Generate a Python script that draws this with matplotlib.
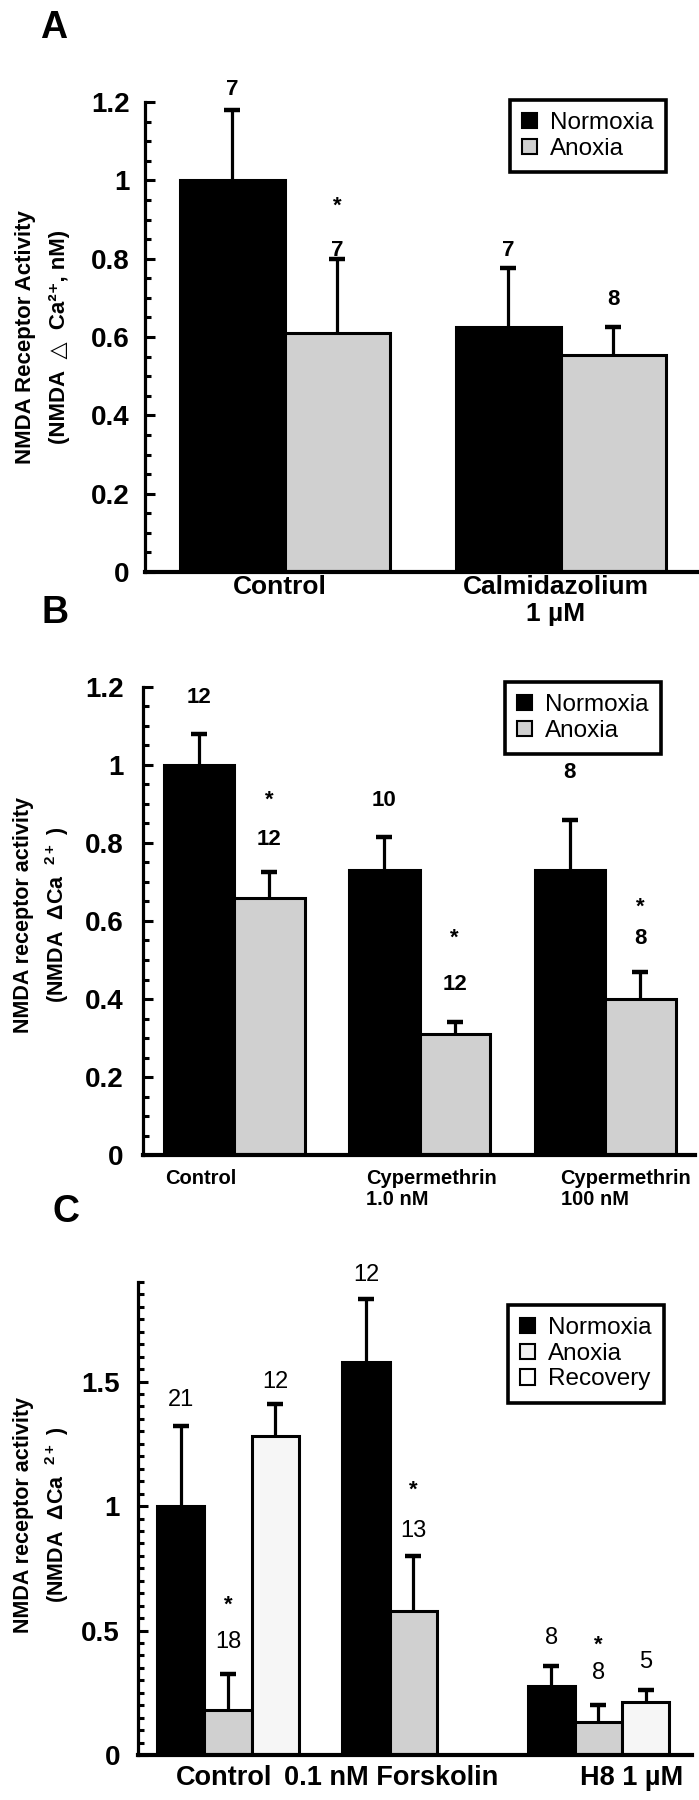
import matplotlib
matplotlib.use('Agg')
import matplotlib.pyplot as plt
from matplotlib.patches import Patch
from matplotlib.ticker import MultipleLocator
import numpy as np

plt.rcParams['font.family'] = ['Liberation Sans', 'DejaVu Sans']
plt.rcParams['mathtext.fontset'] = 'custom'
plt.rcParams['mathtext.rm'] = 'Liberation Sans'
plt.rcParams['mathtext.bf'] = 'Liberation Sans:bold'

# ---------------- data ----------------
# Panel A
a_groups = ['Control', 'Calmidazolium\n1 µM']
a_norm = [1.00, 0.625]
a_norm_sem = [0.18, 0.152]
a_anox = [0.61, 0.555]
a_anox_sem = [0.19, 0.071]
a_norm_n = ['7', '7']
a_anox_n = ['7', '8']
a_anox_star = ['*', '']
a_yticks = [0, 0.2, 0.4, 0.6, 0.8, 1.0, 1.2]
a_yticklabels = ['0', '0.2', '0.4', '0.6', '0.8', '1', '1.2']

# Panel B
b_groups = ['Control', 'Cypermethrin\n1.0 nM', 'Cypermethrin\n100 nM']
b_norm = [1.00, 0.73, 0.73]
b_norm_sem = [0.08, 0.085, 0.13]
b_anox = [0.66, 0.31, 0.40]
b_anox_sem = [0.065, 0.03, 0.07]
b_norm_n = ['12', '10', '8']
b_anox_n = ['12', '12', '8']
b_anox_star = ['*', '*', '*']
b_yticks = [0, 0.2, 0.4, 0.6, 0.8, 1.0, 1.2]
b_yticklabels = ['0', '0.2', '0.4', '0.6', '0.8', '1', '1.2']

# Panel C
c_groups = ['Control', '0.1 nM Forskolin', 'H8 1 µM']
c_norm = [1.00, 1.58, 0.277]
c_norm_sem = [0.32, 0.25, 0.08]
c_anox = [0.18, 0.578, 0.133]
c_anox_sem = [0.145, 0.222, 0.067]
c_recov = [1.28, np.nan, 0.213]
c_recov_sem = [0.13, np.nan, 0.047]
c_norm_n = ['21', '12', '8']
c_anox_n = ['18', '13', '8']
c_recov_n = ['12', '', '5']
c_anox_star = ['*', '*', '*']
c_yticks = [0, 0.5, 1.0, 1.5]
c_yticklabels = ['0', '0.5', '1', '1.5']

series_ab = ['Normoxia', 'Anoxia']
series_c = ['Normoxia', 'Anoxia', 'Recovery']

# ---------------- layout / style ----------------
W, H, DPI = 699, 1800, 100
BLACK, GRAY, LIGHT = '#000000', '#d0d0d0', '#f6f6f6'

# annotation heights (data units)
a_norm_ny = [1.232, 0.82]
a_anox_ny = [0.82, 0.697]
a_star_y = [0.934, 0]
b_norm_ny = [1.174, 0.91, 0.982]
b_anox_ny = [0.81, 0.436, 0.556]
b_star_y = [0.91, 0.556, 0.636]
c_norm_ny = [1.426, 1.928, 0.47]
c_anox_ny = [0.454, 0.90, 0.329]
c_recov_ny = [1.498, 0, 0.373]
c_star_y = [0.602, 1.064, 0.442]

fig = plt.figure(figsize=(W / DPI, H / DPI), dpi=DPI)


def make_axes(l, t, r, b, pad):
    ax = fig.add_axes([l / W, 1 - b / H, (r - l) / W, (b - t) / H])
    ax.patch.set_alpha(0)
    ax.spines[['top', 'right']].set_visible(False)
    ax.spines['left'].set_linewidth(2.3)
    ax.spines['bottom'].set_linewidth(3.0)
    ax.tick_params(axis='x', length=0, labelbottom=False)
    ax.tick_params(axis='y', which='major', direction='in', length=7,
                   width=2.2, labelsize=20, pad=pad)
    ax.tick_params(axis='y', which='minor', direction='in', length=4.5,
                   width=2.2)
    return ax


def style_ticks(ax, ticks, labels, minor):
    ax.set_yticks(ticks, labels)
    for t in ax.get_yticklabels():
        t.set_fontweight('bold')
    ax.yaxis.set_minor_locator(MultipleLocator(minor))


def bars(ax, x, vals, sems, width, color):
    ax.bar(x, vals, width, color=color, edgecolor='black', linewidth=2.2,
           zorder=2)
    eb = ax.errorbar(x, vals, yerr=[np.zeros(len(vals)), sems], fmt='none',
                     ecolor='black', elinewidth=2.3, capsize=5.8,
                     capthick=3.2, zorder=1)
    caps = eb[1]
    if len(caps) == 2:
        caps[0].set_visible(False)  # no cap at the bar top


def legend(ax, handles, labels, left, top):
    leg = ax.legend(handles, labels, loc='upper left',
                    bbox_to_anchor=(left / W, 1 - top / H),
                    bbox_transform=fig.transFigure, frameon=True,
                    fancybox=False, fontsize=17.5, handlelength=0.6,
                    handleheight=0.6, handletextpad=0.55, labelspacing=0.15,
                    borderpad=0.5, borderaxespad=0)
    fr = leg.get_frame()
    fr.set_edgecolor('black')
    fr.set_linewidth(2.6)
    fr.set_alpha(1)
    return leg


def xlabel(ax, x, text, dy, size, ha='center'):
    ax.annotate(text, xy=(x, 0), xycoords=('data', 'axes fraction'),
                xytext=(0, -dy), textcoords='offset pixels', ha=ha, va='top',
                fontsize=size, fontweight='bold', linespacing=1.15,
                annotation_clip=False)


def note(ax, x, y, text, size, weight='bold'):
    if text:
        ax.text(x, y, text, ha='center', va='center', fontsize=size,
                fontweight=weight, clip_on=False)


# ================= Panel A =================
axA = make_axes(145, 102, 697, 572, 11)
xa = np.arange(len(a_groups))
wa = 0.38
bars(axA, xa - wa / 2, a_norm, a_norm_sem, wa, BLACK)
bars(axA, xa + wa / 2, a_anox, a_anox_sem, wa, GRAY)
axA.set_xlim(-0.507, 1.493)
axA.set_ylim(0, 1.2)
style_ticks(axA, a_yticks, a_yticklabels, 0.05)
for i in range(len(a_groups)):
    note(axA, xa[i] - wa / 2, a_norm_ny[i], a_norm_n[i], 16)
    note(axA, xa[i] + wa / 2, a_anox_ny[i], a_anox_n[i], 16)
    note(axA, xa[i] + wa / 2, a_star_y[i], a_anox_star[i], 16)
    xlabel(axA, xa[i] - 0.02, a_groups[i], 3, 19)
legend(axA, [Patch(facecolor=BLACK, edgecolor='black', linewidth=1.5),
             Patch(facecolor=GRAY, edgecolor='black', linewidth=1.5)],
       series_ab, 510, 100)
fig.text(26 / W, 1 - 337 / H, 'NMDA Receptor Activity', rotation=90,
         ha='center', va='center', fontsize=16, fontweight='bold')
fig.text(60 / W, 1 - 337 / H, '(NMDA  △  Ca²⁺, nM)',
         rotation=90, ha='center', va='center', fontsize=16,
         fontweight='bold')
fig.text(54 / W, 1 - 28 / H, 'A', ha='center', va='center', fontsize=27,
         fontweight='bold')

# ================= Panel B =================
axB = make_axes(143, 687, 695, 1155, 14)
xb = np.arange(len(b_groups))
wb = 0.38
bars(axB, xb - wb / 2, b_norm, b_norm_sem, wb, BLACK)
bars(axB, xb + wb / 2, b_anox, b_anox_sem, wb, GRAY)
axB.set_xlim(-0.4906, 2.485)
axB.set_ylim(0, 1.2)
style_ticks(axB, b_yticks, b_yticklabels, 0.05)
b_label_off = [-0.37, -0.29, -0.24]
for i in range(len(b_groups)):
    note(axB, xb[i] - wb / 2, b_norm_ny[i], b_norm_n[i], 16)
    note(axB, xb[i] + wb / 2, b_anox_ny[i], b_anox_n[i], 16)
    note(axB, xb[i] + wb / 2, b_star_y[i], b_anox_star[i], 16)
    xlabel(axB, xb[i] + b_label_off[i], b_groups[i], 14, 14.5, ha='left')
legend(axB, [Patch(facecolor=BLACK, edgecolor='black', linewidth=1.5),
             Patch(facecolor=GRAY, edgecolor='black', linewidth=1.5)],
       series_ab, 505, 682)
fig.text(23 / W, 1 - 915 / H, 'NMDA receptor activity', rotation=90,
         ha='center', va='center', fontsize=15.5, fontweight='bold')
fig.text(57 / W, 1 - 915 / H, '(NMDA  ΔCa  $^{\\mathbf{2+}}$ )',
         rotation=90, ha='center', va='center', fontsize=15.5,
         fontweight='bold')
fig.text(55 / W, 1 - 613 / H, 'B', ha='center', va='center', fontsize=27,
         fontweight='bold')

# ================= Panel C =================
axC = make_axes(138, 1282, 692, 1755, 13)
xc = np.arange(len(c_groups))
wc = 0.255
bars(axC, xc - wc, c_norm, c_norm_sem, wc, BLACK)
bars(axC, xc, c_anox, c_anox_sem, wc, GRAY)
bars(axC, xc + wc, c_recov, c_recov_sem, wc, LIGHT)
axC.set_xlim(-0.486, 2.505)
axC.set_ylim(0, 1.9)
style_ticks(axC, c_yticks, c_yticklabels, 0.05)
c_label_off = [-0.02, -0.12, 0.18]
for i in range(len(c_groups)):
    note(axC, xc[i] - wc, c_norm_ny[i], c_norm_n[i], 17, 'normal')
    note(axC, xc[i], c_anox_ny[i], c_anox_n[i], 17, 'normal')
    note(axC, xc[i] + wc, c_recov_ny[i], c_recov_n[i], 17, 'normal')
    note(axC, xc[i], c_star_y[i], c_anox_star[i], 16)
    xlabel(axC, xc[i] + c_label_off[i], c_groups[i], 10, 19.5)
legend(axC, [Patch(facecolor=BLACK, edgecolor='black', linewidth=1.5),
             Patch(facecolor='#f2f2f2', edgecolor='black', linewidth=1.5),
             Patch(facecolor='white', edgecolor='black', linewidth=1.5)],
       series_c, 508, 1305)
fig.text(23 / W, 1 - 1515 / H, 'NMDA receptor activity', rotation=90,
         ha='center', va='center', fontsize=15.5, fontweight='bold')
fig.text(57 / W, 1 - 1515 / H, '(NMDA  ΔCa  $^{\\mathbf{2+}}$ )',
         rotation=90, ha='center', va='center', fontsize=15.5,
         fontweight='bold')
fig.text(66 / W, 1 - 1212 / H, 'C', ha='center', va='center', fontsize=27,
         fontweight='bold')

fig.savefig('out.png', dpi=DPI)
